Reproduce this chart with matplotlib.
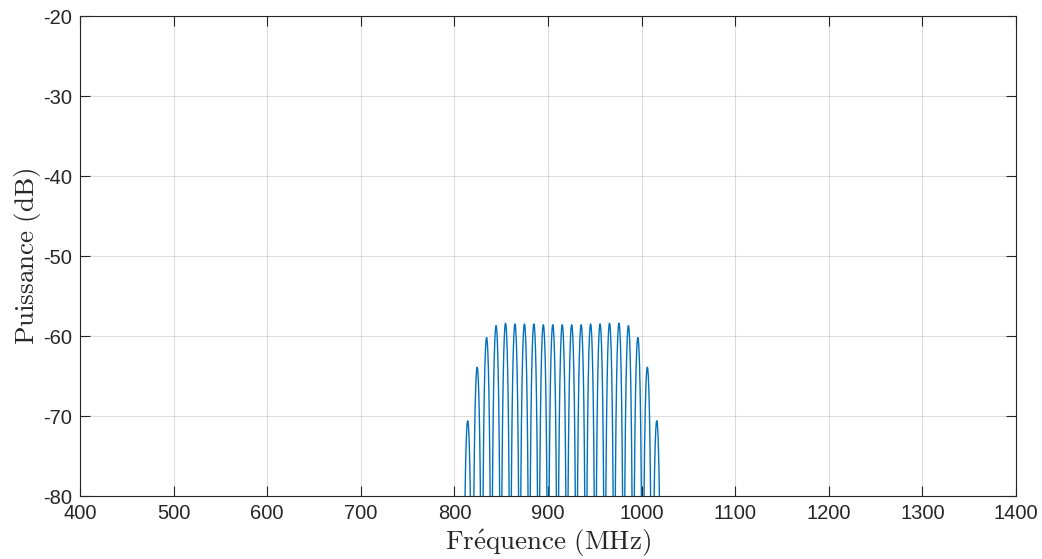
import numpy as np
import matplotlib
matplotlib.use("Agg")
import matplotlib.pyplot as plt

# Data: lobe centres (MHz) and peak levels (dB)
peak_freqs = [814.2, 824.3, 834.4, 844.5, 854.6, 864.7, 874.8, 884.9, 895.0, 905.1,
              915.2, 925.3, 935.4, 945.5, 955.6, 965.7, 975.8, 985.9, 996.0, 1006.1, 1016.2]
peak_levels = [-70.6, -63.9, -60.2, -58.7, -58.4, -58.5, -58.5, -58.5, -58.6, -58.6,
               -58.6, -58.6, -58.6, -58.5, -58.5, -58.4, -58.4, -58.7, -60.2, -63.9, -70.6]
lobe_spacing = 10.1
lobe_exponent = 2.4

x_ticks = [400, 500, 600, 700, 800, 900, 1000, 1100, 1200, 1300, 1400]
y_ticks = [-80, -70, -60, -50, -40, -30, -20]

plt.rcParams['mathtext.fontset'] = 'cm'
plt.rcParams['axes.unicode_minus'] = False
plt.rcParams['font.family'] = ['Liberation Sans', 'DejaVu Sans']

fig = plt.figure(figsize=(10.42, 5.59), dpi=100)
ax = fig.add_axes([80/1042, 1-496/559, (1016-80)/1042, (496-16)/559])

fs, ps = [], []
for fk, pk in zip(peak_freqs, peak_levels):
    u = np.linspace(-0.5, 0.5, 401)
    c = np.abs(np.cos(np.pi * u))
    lvl = pk + 20 * lobe_exponent * np.log10(np.maximum(c, 1e-6))
    fs.append(fk + u * lobe_spacing)
    ps.append(np.maximum(lvl, -200))
f = np.concatenate(fs)
p = np.concatenate(ps)
ax.plot(f, p, color='#0072BD', lw=1.0)

ax.set_xlim(400, 1400)
ax.set_ylim(-80, -20)
ax.set_xticks(x_ticks)
ax.set_yticks(y_ticks)
ax.grid(True, color='#262626', alpha=0.15, lw=0.8)
ax.tick_params(direction='in', length=7, width=0.8, top=True, right=True,
               labelsize=14.5, colors='#262626', pad=6)
for s in ax.spines.values():
    s.set_color('#262626')
    s.set_linewidth(0.8)

ax.set_xlabel(r"$\mathrm{Fr\'{e}quence\ (MHz)}$", fontsize=19.5, color='#262626', labelpad=3)
ax.set_ylabel(r'$\mathrm{Puissance\ (dB)}$', fontsize=19.5, color='#262626', labelpad=0)

fig.savefig('out.png', dpi=100)
